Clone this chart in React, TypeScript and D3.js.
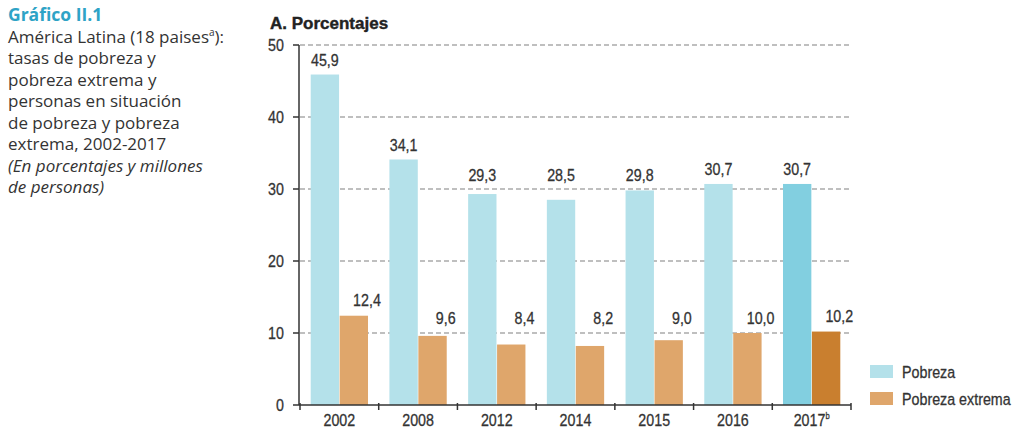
import { useEffect, useRef } from "react";
import * as d3 from "d3";

const years = ["2002", "2008", "2012", "2014", "2015", "2016", "2017"];
const pobreza = [45.9, 34.1, 29.3, 28.5, 29.8, 30.7, 30.7];
const extrema = [12.4, 9.6, 8.4, 8.2, 9.0, 10.0, 10.2];
const yTicks = [0, 10, 20, 30, 40, 50];
const legendLabels = ["Pobreza", "Pobreza extrema"];
const leftLines = [
  "tasas de pobreza y",
  "pobreza extrema y",
  "personas en situación",
  "de pobreza y pobreza",
  "extrema, 2002-2017",
];
const noteLines = ["(En porcentajes y millones", "de personas)"];

const W = 1012;
const H = 429;
const ARIAL = "'Liberation Sans', Arial, sans-serif";
const SANS = "'Open Sans', Lato, sans-serif";
const SQ = 0.84; // horizontal squeeze to fake a condensed face

const colPob = "#b4e1ea";
const colPobLast = "#82cfe0";
const colExt = "#dfa66b";
const colExtLast = "#c97f2f";

// lift a label above a gridline it would otherwise sit on
function labelAnchor(v) {
  const up = Math.ceil(v / 10) * 10;
  return up - v < 2.5 ? Math.max(up, v) : v;
}

// condensed text placed at (px, py)
function ctext(sel, px, py) {
  return sel
    .attr("transform", (d, i) => {
      const a = typeof px === "function" ? px(d, i) : px;
      const b = typeof py === "function" ? py(d, i) : py;
      return `translate(${a},${b}) scale(${SQ},1)`;
    })
    .attr("x", 0)
    .attr("y", 0);
}

export default function App() {
  const ref = useRef(null);

  useEffect(() => {
    const svg = d3.select(ref.current);
    svg.selectAll("*").remove();

    const x0 = 300;
    const x1 = 851;
    const x = d3.scaleBand().domain(years).range([x0, x1]).paddingInner(0).paddingOuter(0);
    const y = d3.scaleLinear().domain([0, 50]).range([405, 45]);
    const inner = d3.scaleBand().domain(["p", "e"]).range([0, x.bandwidth()]).paddingOuter(0.37).paddingInner(0.02);

    // left caption
    const cap = svg.append("g").attr("font-family", SANS).attr("fill", "#333");
    cap.append("text").attr("x", 8).attr("y", 21).attr("font-size", 17.5).attr("font-weight", 700)
      .attr("fill", "#2ea3c6").text("Gráfico II.1");
    const first = cap.append("text").attr("x", 8).attr("y", 42.5).attr("font-size", 17);
    first.append("tspan").text("América Latina (18 paises");
    first.append("tspan").attr("font-size", 10).attr("dy", -7).text("a");
    first.append("tspan").attr("dy", 7).text("):");
    leftLines.forEach((t, i) => {
      cap.append("text").attr("x", 8).attr("y", 64 + i * 21.5).attr("font-size", 17).text(t);
    });
    noteLines.forEach((t, i) => {
      cap.append("text").attr("x", 8).attr("y", 171.5 + i * 21.5).attr("font-size", 17)
        .attr("font-style", "italic").text(t);
    });

    // panel title
    svg.append("text").attr("x", 270).attr("y", 29).attr("font-family", ARIAL)
      .attr("font-weight", 700).attr("font-size", 17).attr("fill", "#222")
      .attr("stroke", "#222").attr("stroke-width", 0.4).text("A. Porcentajes");

    // gridlines
    svg.append("g").selectAll("line").data(yTicks.filter((d) => d > 0)).join("line")
      .attr("x1", x0).attr("x2", x1).attr("y1", (d) => y(d)).attr("y2", (d) => y(d))
      .attr("stroke", "#aaa").attr("stroke-width", 1.5).attr("stroke-dasharray", "5,3");

    // bars
    const g = svg.append("g");
    const last = years.length - 1;
    g.selectAll(".p").data(pobreza).join("rect")
      .attr("x", (d, i) => x(years[i]) + inner("p"))
      .attr("y", (d) => y(d)).attr("width", inner.bandwidth())
      .attr("height", (d) => y(0) - y(d))
      .attr("fill", (d, i) => (i === last ? colPobLast : colPob));
    g.selectAll(".e").data(extrema).join("rect")
      .attr("x", (d, i) => x(years[i]) + inner("e"))
      .attr("y", (d) => y(d)).attr("width", inner.bandwidth())
      .attr("height", (d) => y(0) - y(d))
      .attr("fill", (d, i) => (i === last ? colExtLast : colExt));

    const fmt = (v) => v.toFixed(1).replace(".", ",");
    const lab = svg.append("g").attr("font-family", ARIAL).attr("font-size", 17)
      .attr("fill", "#333").attr("stroke", "#333").attr("stroke-width", 0.3).attr("text-anchor", "middle");
    ctext(lab.selectAll(".lp").data(pobreza).join("text"),
      (d, i) => x(years[i]) + inner("p") + inner.bandwidth() / 2,
      (d) => y(labelAnchor(d)) - 8.5).text(fmt);
    ctext(lab.selectAll(".le").data(extrema).join("text"),
      (d, i) => x(years[i]) + inner("e") + inner.bandwidth() - 1,
      (d) => y(labelAnchor(d)) - 9.5).text(fmt);

    // y axis
    const ya = svg.append("g");
    ya.append("line").attr("x1", 299).attr("x2", 299).attr("y1", y(50)).attr("y2", y(0))
      .attr("stroke", "#333").attr("stroke-width", 1.5);
    ya.selectAll(".t").data(yTicks).join("line")
      .attr("x1", 293).attr("x2", 299).attr("y1", (d) => y(d)).attr("y2", (d) => y(d))
      .attr("stroke", "#333").attr("stroke-width", 1.5);
    ctext(ya.selectAll("text").data(yTicks).join("text"), 284, (d) => y(d) + 6)
      .attr("text-anchor", "end").attr("stroke", "#333").attr("stroke-width", 0.3)
      .attr("font-family", ARIAL).attr("font-size", 17).attr("fill", "#333").text((d) => d);

    // x axis
    const xa = svg.append("g");
    xa.append("line").attr("x1", x0 - 1).attr("x2", x1).attr("y1", y(0)).attr("y2", y(0))
      .attr("stroke", "#333").attr("stroke-width", 1.5);
    const bounds = years.map((yr) => x(yr)).concat([x1]);
    xa.selectAll(".t").data(bounds).join("line")
      .attr("x1", (d) => d).attr("x2", (d) => d).attr("y1", y(0) - 2).attr("y2", y(0) + 5)
      .attr("stroke", "#333").attr("stroke-width", 1.5);
    const xl = ctext(xa.selectAll(".xl").data(years).join("text"),
      (d) => x(d) + x.bandwidth() / 2, 426)
      .attr("text-anchor", "middle").attr("font-family", ARIAL).attr("font-size", 17)
      .attr("fill", "#333").attr("stroke", "#333").attr("stroke-width", 0.3);
    xl.append("tspan").text((d) => d);
    xl.filter((d, i) => i === last).append("tspan").attr("font-size", 9).attr("dy", -7).text("b");

    // legend
    const leg = svg.append("g").attr("font-family", ARIAL).attr("font-size", 17)
      .attr("fill", "#333").attr("stroke", "#333").attr("stroke-width", 0.3);
    [colPob, colExt].forEach((c, i) => {
      leg.append("rect").attr("x", 870).attr("y", 365 + i * 27).attr("width", 23).attr("height", 13)
        .attr("fill", c).attr("stroke", "none");
      ctext(leg.append("text"), 902, 378 + i * 27).text(legendLabels[i]);
    });
  }, []);

  return (
    <div>
      <style>{`body{margin:0}`}</style>
      <svg ref={ref} width={W} height={H} style={{ display: "block", background: "#fff" }} />
    </div>
  );
}
